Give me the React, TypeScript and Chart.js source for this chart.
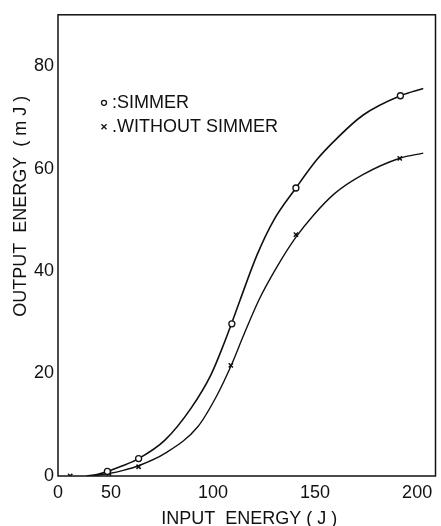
import React, { useEffect, useRef } from "react";
import { Chart, registerables } from "chart.js";

Chart.register(...registerables);

// Measured points
const simmerX = [48.2, 63.5, 109.2, 140.6, 191.8];
const simmerY = [0.9, 3.4, 29.7, 56.2, 74.2];
const withoutX = [30, 49, 63.5, 108.7, 140.6, 191.5];
const withoutY = [0, 0.5, 1.8, 21.6, 47.1, 62];

// Fitted curves
const simmerCurveX = [38, 43, 48.2, 55, 63.5, 76.4, 89.3, 99, 105.5, 109.2, 113.2, 121.6, 129.7, 140.6, 150.6, 158.7, 173.4, 191.8, 203];
const simmerCurveY = [0, 0.3, 0.9, 1.9, 3.4, 7, 13.3, 19.8, 26, 29.9, 34.3, 43.2, 49.9, 56.2, 61.6, 65.1, 70.4, 74.2, 75.6];
const withoutCurveX = [40, 49, 56, 63.5, 76.4, 92.5, 102, 108.7, 115, 122.4, 131.3, 140.6, 149, 159.5, 173.4, 191.5, 203];
const withoutCurveY = [0, 0.5, 1.1, 2, 4.4, 9.6, 15.8, 21.4, 27.5, 34.3, 40.8, 46.6, 50.8, 55.1, 58.8, 62, 63];

const xTicks = [24, 50, 100, 150, 200];
const yTicks = [0, 20, 40, 60, 80];
const legendLabels = ["SIMMER", "WITHOUT SIMMER"];
const xTitle = " INPUT  ENERGY ( J )";
const yTitle = "OUTPUT  ENERGY  ( m J )";

const FONT = "'Liberation Sans', Arial, sans-serif";
const INK = "#111";

const pts = (xs: number[], ys: number[]) => xs.map((x, i) => ({ x, y: ys[i] }));

const framePlugin = {
  id: "frameAndText",
  afterDraw(chart: any) {
    const { ctx, chartArea } = chart;
    const { left, top, right, bottom } = chartArea;
    ctx.save();
    ctx.strokeStyle = INK;
    ctx.lineWidth = 1.5;
    ctx.strokeRect(left, top, right - left, bottom - top);

    // y-axis title
    ctx.fillStyle = INK;
    ctx.font = `18px ${FONT}`;
    ctx.textAlign = "center";
    ctx.textBaseline = "middle";
    ctx.save();
    ctx.translate(21, top + (bottom - top) * 0.415);
    ctx.rotate(-Math.PI / 2);
    ctx.fillText(yTitle, 0, 0);
    ctx.restore();

    // legend
    const lx = left + 46;
    const ly1 = top + 88;
    const ly2 = top + 112;
    ctx.lineWidth = 1.3;
    ctx.beginPath();
    ctx.arc(lx, ly1, 2.5, 0, Math.PI * 2);
    ctx.stroke();
    ctx.beginPath();
    ctx.moveTo(lx - 2.5, ly2 - 2.5);
    ctx.lineTo(lx + 2.5, ly2 + 2.5);
    ctx.moveTo(lx + 2.5, ly2 - 2.5);
    ctx.lineTo(lx - 2.5, ly2 + 2.5);
    ctx.stroke();
    ctx.textAlign = "left";
    ctx.fillText(":" + legendLabels[0], lx + 8, ly1);
    ctx.fillText("." + legendLabels[1], lx + 8, ly2);
    ctx.restore();
  },
};

export default function App() {
  const ref = useRef<HTMLCanvasElement>(null);
  useEffect(() => {
    if (!ref.current) return;
    const chart = new Chart(ref.current, {
      type: "scatter",
      data: {
        datasets: [
          {
            label: "SIMMER",
            data: pts(simmerX, simmerY),
            pointStyle: "circle",
            pointRadius: 3,
            pointBorderWidth: 1.3,
            pointBackgroundColor: "#fff",
            pointBorderColor: INK,
            showLine: false,
          },
          {
            label: "WITHOUT SIMMER",
            data: pts(withoutX, withoutY),
            pointStyle: "crossRot",
            pointRadius: 3,
            pointBorderWidth: 1.5,
            pointBorderColor: INK,
            showLine: false,
          },
          {
            label: "simmer fit",
            data: pts(simmerCurveX, simmerCurveY),
            showLine: true,
            pointRadius: 0,
            borderColor: INK,
            borderWidth: 1.6,
            cubicInterpolationMode: "monotone",
          },
          {
            label: "without fit",
            data: pts(withoutCurveX, withoutCurveY),
            showLine: true,
            pointRadius: 0,
            borderColor: INK,
            borderWidth: 1.4,
            cubicInterpolationMode: "monotone",
          },
        ],
      },
      options: {
        animation: false,
        responsive: false,
        maintainAspectRatio: false,
        layout: { padding: { top: 14, right: 1, left: 0, bottom: 0 } },
        plugins: { legend: { display: false }, tooltip: { enabled: false } },
        scales: {
          x: {
            type: "linear",
            min: 24,
            max: 209,
            afterBuildTicks: (s: any) => {
              s.ticks = xTicks.map((v) => ({ value: v }));
            },
            afterFit: (s: any) => {
              s.height = 50;
            },
            grid: { display: false, drawTicks: false },
            border: { display: false },
            ticks: {
              padding: 6,
              color: INK,
              font: { family: FONT, size: 18 },
              callback: (v: any) => (v === xTicks[0] ? "0" : String(v)),
            },
            title: {
              display: true,
              text: xTitle,
              color: INK,
              font: { family: FONT, size: 18 },
              padding: { top: 0, bottom: -4 },
            },
          },
          y: {
            type: "linear",
            min: 0,
            max: 90,
            afterBuildTicks: (s: any) => {
              s.ticks = yTicks.map((v) => ({ value: v }));
            },
            afterFit: (s: any) => {
              s.width = 58;
            },
            grid: { display: false, drawTicks: false },
            border: { display: false },
            ticks: {
              padding: 4,
              color: INK,
              font: { family: FONT, size: 18 },
            },
          },
        },
      },
      plugins: [framePlugin],
    } as any);
    return () => chart.destroy();
  }, []);
  return (
    <div style={{ position: "fixed", left: 0, top: 0, width: 441, height: 526, background: "#fff" }}>
      <canvas ref={ref} width={441} height={526} style={{ display: "block" }} />
    </div>
  );
}
